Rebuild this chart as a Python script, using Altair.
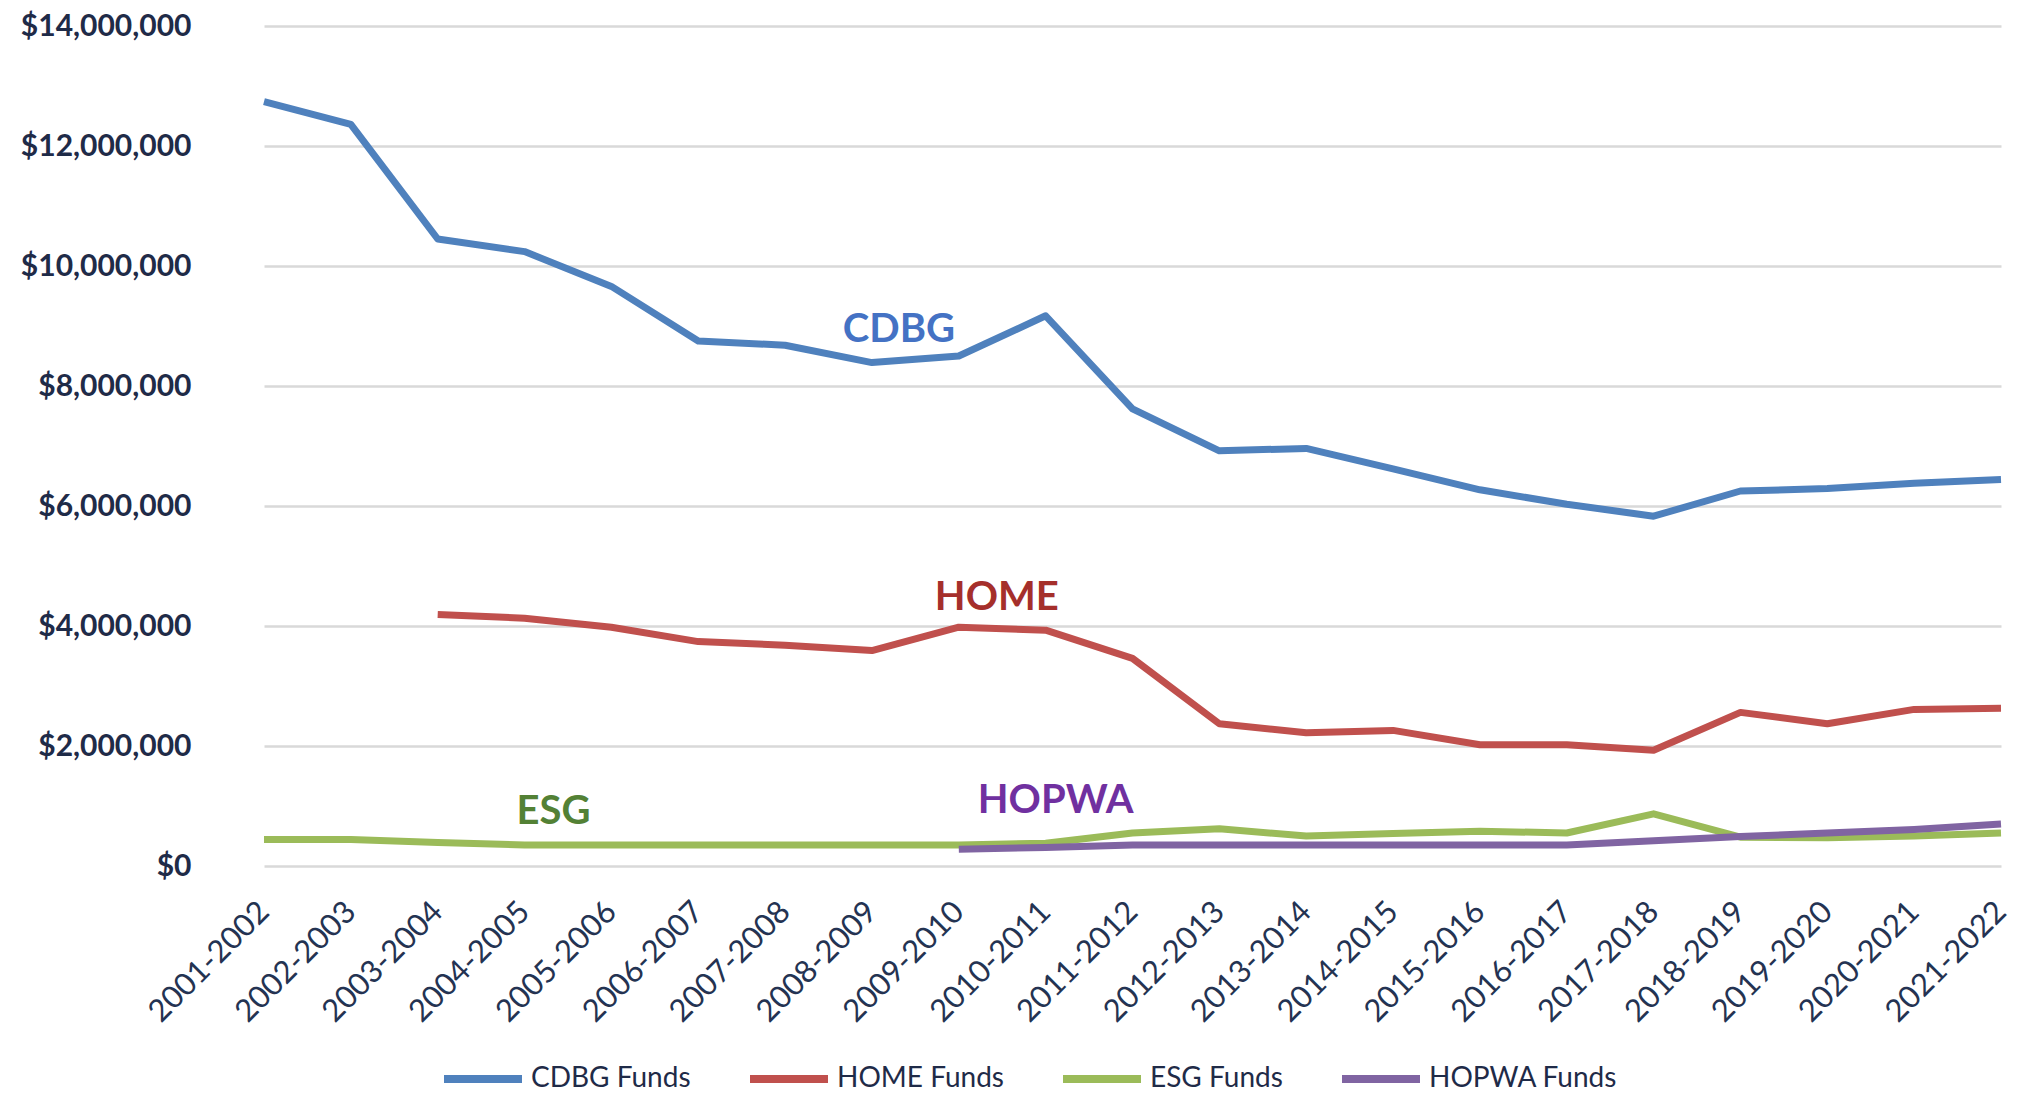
import altair as alt
import pandas as pd

years = ["2001-2002", "2002-2003", "2003-2004", "2004-2005", "2005-2006", "2006-2007",
         "2007-2008", "2008-2009", "2009-2010", "2010-2011", "2011-2012", "2012-2013",
         "2013-2014", "2014-2015", "2015-2016", "2016-2017", "2017-2018", "2018-2019",
         "2019-2020", "2020-2021", "2021-2022"]

cdbg = [12.74, 12.36, 10.45, 10.24, 9.66, 8.75, 8.68, 8.39, 8.50, 9.17, 7.62, 6.92,
        6.96, 6.62, 6.27, 6.03, 5.83, 6.25, 6.29, 6.38, 6.44]
home = [None, None, 4.19, 4.13, 3.98, 3.74, 3.68, 3.59, 3.98, 3.93, 3.46, 2.37,
        2.22, 2.26, 2.02, 2.02, 1.93, 2.56, 2.37, 2.61, 2.63]
esg = [0.44, 0.44, 0.39, 0.35, 0.35, 0.35, 0.35, 0.35, 0.35, 0.38, 0.55, 0.62,
       0.50, 0.54, 0.58, 0.55, 0.87, 0.48, 0.47, 0.50, 0.55]
hopwa = [None, None, None, None, None, None, None, None, 0.28, 0.31, 0.35, 0.35,
         0.35, 0.35, 0.35, 0.35, 0.42, 0.49, 0.55, 0.61, 0.70]

series_names = ["CDBG Funds", "HOME Funds", "ESG Funds", "HOPWA Funds"]
series_colors = ["#4F81BD", "#C0504D", "#9BBB59", "#8064A2"]

ann_text = ["CDBG", "HOME", "ESG", "HOPWA"]
ann_year = ["2008-2009", "2009-2010", "2004-2005", "2010-2011"]
ann_value = [8.93, 4.47, 0.90, 1.08]
ann_colors = ["#4472C4", "#A52F2B", "#538135", "#7030A0"]
ann_dx = [27, 38, 29, 10]

rows = []
for name, vals in zip(series_names, [cdbg, home, esg, hopwa]):
    for y, v in zip(years, vals):
        if v is not None:
            rows.append({"Year": y, "Series": name, "Value": v * 1_000_000})
df = pd.DataFrame(rows)

x_scale = alt.Scale(type="point", domain=years, range=[44, 1781], padding=0)

x_enc = alt.X("Year:N", sort=years, scale=x_scale,
              axis=alt.Axis(title=None, labelAngle=-45, labelAlign="right",
                            labelBaseline="middle", labelPadding=41, ticks=False,
                            domain=False, grid=False, labelFont="Lato",
                            labelFontSize=31, labelColor="#243352"))
y_enc = alt.Y("Value:Q",
              scale=alt.Scale(domain=[0, 14_000_000], nice=False),
              axis=alt.Axis(title=None, values=[i * 2_000_000 for i in range(8)],
                            format="$,.0f", ticks=False, domain=False,
                            labelPadding=29, labelFont="Lato", labelFontWeight="bold",
                            labelFontSize=30, labelColor="#1F2B48",
                            gridColor="#D9D9D9", gridWidth=2.5))
color_enc = alt.Color("Series:N",
                      scale=alt.Scale(domain=series_names, range=series_colors),
                      legend=alt.Legend(title=None, orient="none", direction="horizontal",
                                        legendX=220, legendY=1010, symbolType="stroke",
                                        symbolSize=6084, symbolStrokeWidth=8,
                                        labelFont="Lato", labelFontSize=28,
                                        labelColor="#1F2B48", labelOffset=5,
                                        labelLimit=0, columnPadding=43, padding=0))

layers = []
for name in series_names:
    layers.append(
        alt.Chart(df).transform_filter(alt.datum.Series == name)
        .mark_line(strokeWidth=7, strokeJoin="round")
        .encode(x=x_enc, y=y_enc, color=color_enc)
    )

for t, yr, v, c, dx in zip(ann_text, ann_year, ann_value, ann_colors, ann_dx):
    adf = pd.DataFrame({"Year": [yr], "Value": [v * 1_000_000], "Label": [t]})
    layers.append(
        alt.Chart(adf).mark_text(font="Lato", fontWeight="bold", fontSize=40,
                                 color=c, dx=dx, baseline="middle", align="center")
        .encode(x=alt.X("Year:N", sort=years, scale=x_scale), y=alt.Y("Value:Q"),
                text="Label:N")
    )

chart = alt.layer(*layers).properties(
    width=1805, height=840,
    background="white",
    autosize=alt.AutoSizeParams(type="none"),
    padding={"left": 212, "top": 18, "right": 0, "bottom": 224},
).configure_view(stroke=None)

chart.save("out.html", embed_options={"renderer": "svg", "actions": False})
